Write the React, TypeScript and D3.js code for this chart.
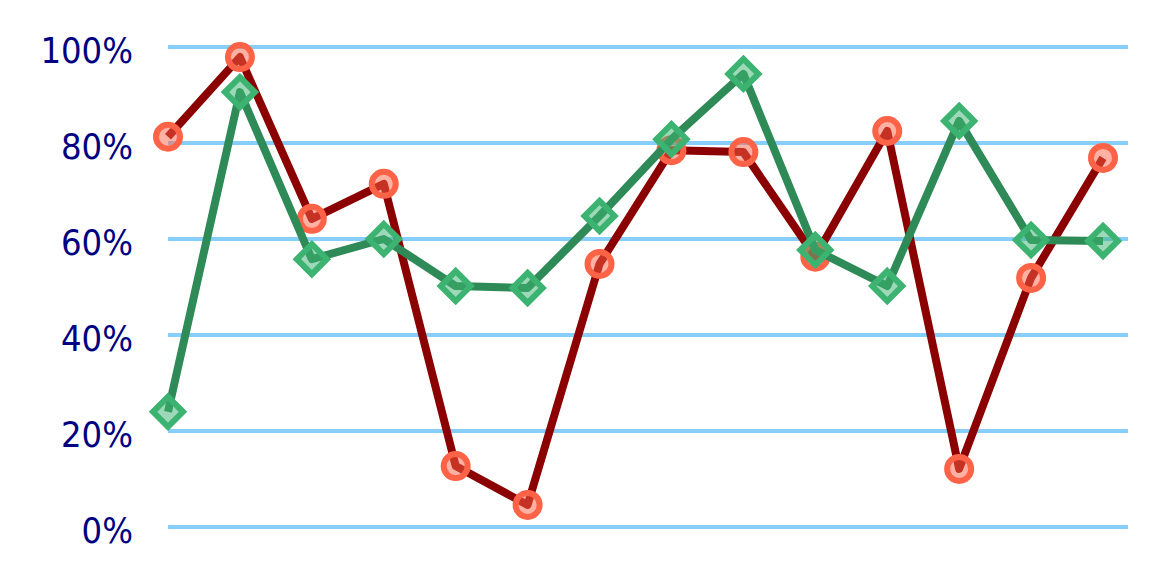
import React from "react";
import * as d3 from "d3";

const categories = ["1","2","3","4","5","6","7","8","9","10","11","12","13","14"];
const seriesA = [81.3, 97.9, 64.2, 71.5, 12.7, 4.6, 54.8, 78.5, 78.1, 56.3, 82.5, 12.1, 51.9, 76.9];
const seriesB = [24.0, 90.6, 55.8, 60.0, 50.2, 49.8, 64.8, 80.8, 94.4, 57.7, 50.2, 84.6, 59.8, 59.6];
const yTicks = [0, 20, 40, 60, 80, 100];

const W = 1152, H = 576;

export default function App() {
  const x = d3.scalePoint<string>().domain(categories).range([168, 1103]);
  const y = d3.scaleLinear().domain([0, 100]).range([527, 47]);
  const line = d3.line<number>().x((_, i) => x(categories[i]) as number).y((d) => y(d));
  const diamond = (cx: number, cy: number, r: number) =>
    `M${cx},${cy - r}L${cx + r},${cy}L${cx},${cy + r}L${cx - r},${cy}Z`;

  return (
    <svg width={W} height={H} style={{ position: "fixed", left: 0, top: 0, background: "#fff" }}>
      {yTicks.map((t) => (
        <g key={t}>
          <line x1={168} x2={1128} y1={y(t)} y2={y(t)} stroke="#87cefa" strokeWidth={4} />
          <text x={133} y={y(t)} dy={16} textAnchor="end" fill="#000080"
            fontFamily="'DejaVu Sans Condensed', 'DejaVu Sans', Verdana, sans-serif"
            fontStretch="condensed" fontSize={36}>{t}%</text>
        </g>
      ))}
      <path d={line(seriesA) || ""} fill="none" stroke="#8b0000" strokeWidth={8} strokeLinejoin="round" />
      {seriesA.map((v, i) => (
        <circle key={"a" + i} cx={x(categories[i])} cy={y(v)} r={12} fill="#ff6347" fillOpacity={0.5}
          stroke="#ff6347" strokeWidth={6} />
      ))}
      <path d={line(seriesB) || ""} fill="none" stroke="#2e8b57" strokeWidth={8} strokeLinejoin="round" />
      {seriesB.map((v, i) => (
        <path key={"b" + i} d={diamond(x(categories[i]) as number, y(v), 15)} fill="#3cb371" fillOpacity={0.5}
          stroke="#3cb371" strokeWidth={6} />
      ))}
    </svg>
  );
}
